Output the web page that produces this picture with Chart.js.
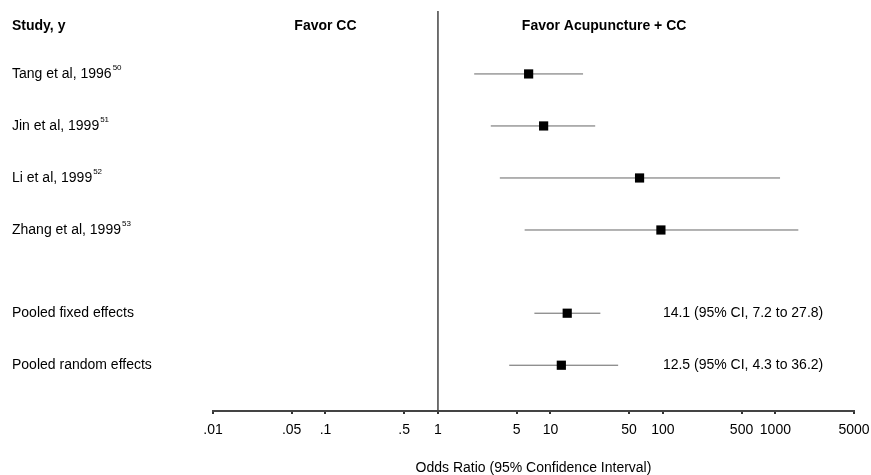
<!DOCTYPE html>
<html>
<head>
<meta charset="utf-8">
<script src="https://cdn.jsdelivr.net/npm/chart.js@4.4.1/dist/chart.umd.min.js"></script>
<style>
  body { margin: 0; background: #fff; }
  #wrap { width: 871px; height: 475px; }
</style>
</head>
<body>
<div id="wrap"><canvas id="forest" width="871" height="475"></canvas></div>
<script>
// Study rows (top to bottom)
const studies = ['Tang et al, 1996', 'Jin et al, 1999', 'Li et al, 1999', 'Zhang et al, 1999', 'Pooled fixed effects', 'Pooled random effects'];
const refs = ['50', '51', '52', '53', '', ''];
const oddsRatio = [6.4, 8.7, 62, 96, 14.1, 12.5];
const ciLow = [2.1, 2.95, 3.55, 5.9, 7.2, 4.3];
const ciHigh = [19.5, 25, 1100, 1600, 27.8, 40];
const rowPos = [1, 2, 3, 4, 5.6, 6.6];
const summaryText = ['', '', '', '', '14.1 (95% CI, 7.2 to 27.8)', '12.5 (95% CI, 4.3 to 36.2)'];
const tickValues = [0.01, 0.05, 0.1, 0.5, 1, 5, 10, 50, 100, 500, 1000, 5000];
const headerPos = 0.08;
const yMin = -0.21, yMax = 7.48;

const FONT = '"Liberation Sans", Arial, Helvetica, sans-serif';

document.addEventListener("DOMContentLoaded", function () {
    const datasets = [];

    // vertical line of no effect
    datasets.push({
        type: 'line',
        order: 2,
        data: [{x: 1, y: yMin}, {x: 1, y: yMax}],
        borderColor: '#444',
        borderWidth: 1.5,
        pointRadius: 0
    });

    // confidence intervals
    studies.forEach(function (s, i) {
        datasets.push({
            type: 'line',
            order: 1,
            data: [{x: ciLow[i], y: rowPos[i]}, {x: ciHigh[i], y: rowPos[i]}],
            borderColor: '#666',
            borderWidth: 1,
            pointRadius: 0
        });
    });

    // point estimates
    datasets.push({
        type: 'scatter',
        order: 0,
        data: oddsRatio.map(function (v, i) { return {x: v, y: rowPos[i]}; }),
        backgroundColor: '#000',
        borderColor: '#000',
        pointStyle: 'rect',
        pointRadius: 6.5,
        borderWidth: 0
    });

    // text on the left, headings and pooled estimates
    const forestText = {
        id: 'forestText',
        afterDraw: function (chart) {
            const ctx = chart.ctx;
            const xs = chart.scales.x, ys = chart.scales.y;
            ctx.save();
            ctx.fillStyle = '#000';
            ctx.textBaseline = 'middle';

            const hy = ys.getPixelForValue(headerPos);
            ctx.font = 'bold 14px ' + FONT;
            ctx.textAlign = 'left';
            ctx.fillText('Study, y', 12, hy);
            ctx.textAlign = 'center';
            ctx.fillText('Favor CC', xs.getPixelForValue(0.1), hy);
            ctx.fillText('Favor Acupuncture + CC', xs.getPixelForValue(30), hy);

            ctx.textAlign = 'left';
            studies.forEach(function (s, i) {
                const y = ys.getPixelForValue(rowPos[i]);
                ctx.font = '14px ' + FONT;
                ctx.fillText(s, 12, y);
                const w = ctx.measureText(s).width;
                if (refs[i]) {
                    ctx.font = '8px ' + FONT;
                    ctx.fillText(refs[i], 12 + w + 1, y - 6);
                }
                if (summaryText[i]) {
                    ctx.font = '14px ' + FONT;
                    ctx.fillText(summaryText[i], xs.getPixelForValue(100), y);
                }
            });
            ctx.restore();
        }
    };

    const ctx = document.getElementById('forest').getContext('2d');
    new Chart(ctx, {
        data: { datasets: datasets },
        plugins: [forestText],
        options: {
            responsive: false,
            animation: false,
            layout: { padding: { left: 213, right: 17, top: 11, bottom: 0 } },
            plugins: {
                legend: { display: false },
                tooltip: { enabled: false }
            },
            scales: {
                x: {
                    type: 'logarithmic',
                    min: 0.01,
                    max: 5000,
                    afterBuildTicks: function (scale) {
                        scale.ticks = tickValues.map(function (v) { return {value: v}; });
                    },
                    afterFit: function (scale) {
                        scale.height = 64;
                        scale.paddingLeft = 0;
                        scale.paddingRight = 0;
                    },
                    grid: {
                        drawOnChartArea: false,
                        drawTicks: true,
                        tickLength: 3,
                        color: '#333',
                        lineWidth: 2
                    },
                    border: { display: true, color: '#444', width: 2 },
                    ticks: {
                        autoSkip: false,
                        maxRotation: 0,
                        padding: 8,
                        color: '#000',
                        font: { family: FONT, size: 14 },
                        callback: function (v) {
                            return v < 1 ? String(v).replace(/^0/, '') : String(v);
                        }
                    },
                    title: {
                        display: true,
                        text: 'Odds Ratio (95% Confidence Interval)',
                        color: '#000',
                        font: { family: FONT, size: 14, lineHeight: 1 },
                        padding: { top: 0, bottom: 0 }
                    }
                },
                y: {
                    type: 'linear',
                    display: false,
                    reverse: true,
                    min: yMin,
                    max: yMax
                }
            }
        }
    });
});
</script>
</body>
</html>
